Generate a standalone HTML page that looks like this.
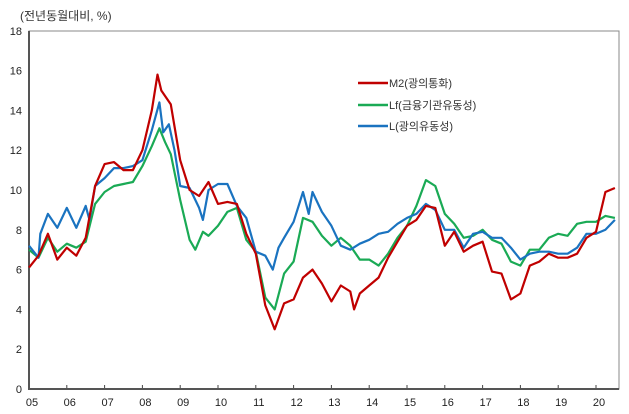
<!DOCTYPE html>
<html><head><meta charset="utf-8"><style>
body{margin:0;background:#fff;}
svg{display:block;font-family:"Liberation Sans","Noto Sans CJK KR",sans-serif;}
</style></head><body>
<svg id="chart" width="629" height="414">
<text x="20" y="20" font-size="12" fill="#333">(전년동월대비, %)</text>
<rect x="29" y="31" width="590" height="358" fill="none" stroke="#888" stroke-width="1"/>
<g id="axes"></g>
<g id="series"></g>
<g>
 <line x1="358" y1="83" x2="388" y2="83" stroke="#c00000" stroke-width="2.5"/>
 <text x="389" y="87" font-size="11" fill="#333">M2(광의통화)</text>
 <line x1="358" y1="105" x2="388" y2="105" stroke="#1aaa55" stroke-width="2.5"/>
 <text x="389" y="109" font-size="11" fill="#333">Lf(금융기관유동성)</text>
 <line x1="358" y1="126" x2="388" y2="126" stroke="#1a73c0" stroke-width="2.5"/>
 <text x="389" y="130" font-size="11" fill="#333">L(광의유동성)</text>
</g>
</svg>
<script>
const yTicks=[0,2,4,6,8,10,12,14,16,18];
const xLabels=["05","06","07","08","09","10","11","12","13","14","15","16","17","18","19","20"];
const m2T=[2005,2005.25,2005.5,2005.75,2006,2006.25,2006.5,2006.75,2007,2007.25,2007.5,2007.75,2008,2008.25,2008.4,2008.5,2008.75,2009,2009.25,2009.5,2009.75,2010,2010.25,2010.5,2010.75,2011,2011.25,2011.5,2011.75,2012,2012.25,2012.5,2012.75,2013,2013.25,2013.5,2013.6,2013.75,2014,2014.25,2014.5,2014.75,2015,2015.25,2015.5,2015.75,2016,2016.25,2016.5,2016.75,2017,2017.25,2017.5,2017.75,2018,2018.25,2018.5,2018.75,2019,2019.25,2019.5,2019.75,2020,2020.25,2020.5];
const m2V=[6.1,6.7,7.8,6.5,7.1,6.7,7.6,10.2,11.3,11.4,11.0,11.0,12.0,14.0,15.8,15.0,14.3,11.5,10.0,9.7,10.4,9.3,9.4,9.3,7.8,6.8,4.2,3.0,4.3,4.5,5.6,6.0,5.3,4.4,5.2,4.9,4.0,4.8,5.2,5.6,6.6,7.4,8.2,8.5,9.2,9.1,7.2,7.9,6.9,7.2,7.4,5.9,5.8,4.5,4.8,6.2,6.4,6.8,6.6,6.6,6.8,7.6,7.9,9.9,10.1];
const lfT=[2005,2005.25,2005.5,2005.75,2006,2006.25,2006.5,2006.75,2007,2007.25,2007.5,2007.75,2008,2008.25,2008.45,2008.6,2008.75,2009,2009.25,2009.4,2009.6,2009.75,2010,2010.25,2010.5,2010.75,2011,2011.25,2011.5,2011.75,2012,2012.25,2012.5,2012.75,2013,2013.25,2013.5,2013.75,2014,2014.25,2014.5,2014.75,2015,2015.25,2015.5,2015.75,2016,2016.25,2016.5,2016.75,2017,2017.25,2017.5,2017.75,2018,2018.25,2018.5,2018.75,2019,2019.25,2019.5,2019.75,2020,2020.25,2020.5];
const lfV=[7.0,6.6,7.6,6.9,7.3,7.1,7.4,9.3,9.9,10.2,10.3,10.4,11.2,12.2,13.1,12.4,11.8,9.5,7.5,7.0,7.9,7.7,8.2,8.9,9.1,7.5,6.9,4.6,4.0,5.8,6.4,8.6,8.4,7.7,7.2,7.6,7.2,6.5,6.5,6.2,6.8,7.6,8.2,9.2,10.5,10.2,8.8,8.3,7.6,7.7,8.0,7.5,7.3,6.4,6.2,7.0,7.0,7.6,7.8,7.7,8.3,8.4,8.4,8.7,8.6];
const lT=[2005,2005.25,2005.3,2005.5,2005.75,2006,2006.25,2006.5,2006.6,2006.75,2007,2007.25,2007.5,2007.75,2008,2008.25,2008.45,2008.55,2008.7,2008.85,2009,2009.25,2009.5,2009.6,2009.75,2010,2010.25,2010.5,2010.75,2011,2011.25,2011.45,2011.6,2011.75,2012,2012.25,2012.4,2012.5,2012.75,2013,2013.25,2013.5,2013.75,2014,2014.25,2014.5,2014.75,2015,2015.25,2015.5,2015.75,2016,2016.25,2016.5,2016.75,2017,2017.25,2017.5,2017.75,2018,2018.25,2018.5,2018.75,2019,2019.25,2019.5,2019.75,2020,2020.25,2020.5];
const lV=[7.2,6.6,7.8,8.8,8.1,9.1,8.1,9.2,8.5,10.2,10.6,11.1,11.1,11.2,11.5,13.0,14.4,12.9,13.3,12.0,10.2,10.1,9.1,8.5,10.0,10.3,10.3,9.2,8.6,6.9,6.7,6.0,7.1,7.6,8.4,9.9,8.8,9.9,8.9,8.2,7.2,7.0,7.3,7.5,7.8,7.9,8.3,8.6,8.8,9.3,9.0,8.0,8.0,7.1,7.8,7.9,7.6,7.6,7.1,6.5,6.8,6.9,6.9,6.8,6.8,7.1,7.8,7.8,8.0,8.5];

const NS="http://www.w3.org/2000/svg";
const X0=29,YEAR=37.8,Y0=389,YS=19.9;
function xs(t){return X0+(t-2005)*YEAR;}
function ys(v){return Y0-v*YS;}
const axes=document.getElementById('axes');
yTicks.forEach(v=>{
 const t=document.createElementNS(NS,'text');
 t.setAttribute('x',22);t.setAttribute('y',ys(v)+4);t.setAttribute('text-anchor','end');
 t.setAttribute('font-size','11');t.setAttribute('fill','#222');t.textContent=v;
 
 
 axes.appendChild(t);
});
xLabels.forEach((lab,i)=>{
 const x=xs(2005+i);
 const tk=document.createElementNS(NS,'line');
 tk.setAttribute('x1',x);tk.setAttribute('x2',x);tk.setAttribute('y1',Y0);tk.setAttribute('y2',Y0-4);
 tk.setAttribute('stroke','#444');
 
 
 axes.appendChild(tk);
 const t=document.createElementNS(NS,'text');
 t.setAttribute('x',x+3);t.setAttribute('y',406);t.setAttribute('text-anchor','middle');
 t.setAttribute('font-size','11');t.setAttribute('fill','#222');t.textContent=lab;
 
 
 axes.appendChild(t);
});
const ax=document.createElementNS(NS,'path');
ax.setAttribute('d',`M${X0},31V${Y0}H619`);ax.setAttribute('stroke','#555');ax.setAttribute('stroke-width','2');ax.setAttribute('fill','none');


axes.appendChild(ax);
const g=document.getElementById('series');
function draw(T,V,col,name){
 const p=document.createElementNS(NS,'path');
 p.setAttribute('d',T.map((t,i)=>(i?'L':'M')+xs(t).toFixed(1)+','+ys(V[i]).toFixed(1)).join(''));
 p.setAttribute('stroke',col);p.setAttribute('stroke-width','2.2');p.setAttribute('fill','none');p.setAttribute('stroke-linejoin','round');
 
 
 g.appendChild(p);
}
draw(lfT,lfV,'#1aaa55','lf-line');
draw(lT,lV,'#1a73c0','l-line');
draw(m2T,m2V,'#c00000','m2-line');
</script>
</body></html>
